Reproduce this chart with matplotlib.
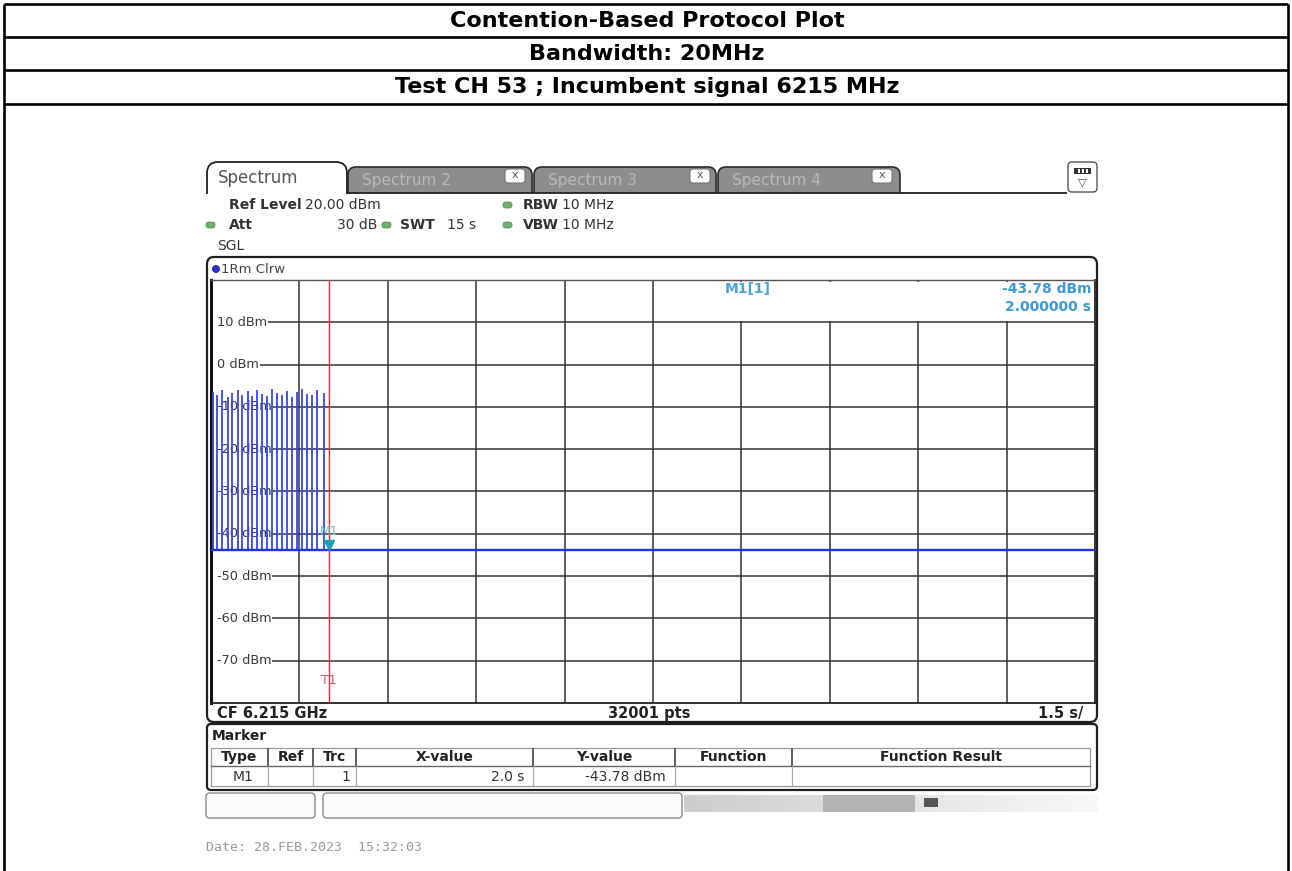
import matplotlib
matplotlib.use("Agg")
import numpy as np
import matplotlib.pyplot as plt
from matplotlib.patches import FancyBboxPatch, Rectangle, Circle, PathPatch
from matplotlib.path import Path
from matplotlib.transforms import offset_copy, blended_transform_factory

W, H, DPI = 1292, 871, 100

# ---------------- data ----------------
header_rows = ["Contention-Based Protocol Plot", "Bandwidth: 20MHz",
               "Test CH 53 ; Incumbent signal 6215 MHz"]
time_span_s = 15.0
time_per_div_s = 1.5
ref_level_dbm = 20.0
bottom_level_dbm = -80.0
level_ticks_dbm = [10, 0, -10, -20, -30, -40, -50, -60, -70]
level_tick_labels = ["10 dBm", "0 dBm", "-10 dBm", "-20 dBm", "-30 dBm",
                     "-40 dBm", "-50 dBm", "-60 dBm", "-70 dBm"]
floor_times_s = [0.0, 15.0]
floor_levels_dbm = [-43.78, -43.78]
pulse_times_s = [0.03, 0.11, 0.19, 0.28, 0.36, 0.45, 0.53, 0.62, 0.70, 0.78,
                 0.87, 0.95, 1.04, 1.12, 1.21, 1.29, 1.37, 1.46, 1.54, 1.63,
                 1.71, 1.80, 1.91]
pulse_peaks_dbm = [-6.4, -7.1, -6.0, -7.6, -6.8, -5.9, -7.2, -6.3, -7.4, -6.1,
                   -6.9, -7.5, -5.8, -6.6, -7.1, -6.2, -7.7, -6.4, -5.7, -6.9,
                   -7.3, -6.0, -6.7]
marker_time_s = 2.0
marker_level_dbm = -43.78
marker_headers = ["Type", "Ref", "Trc", "X-value", "Y-value", "Function", "Function Result"]
marker_row = ["M1", "", "1", "2.0 s", "-43.78 dBm", "", ""]
tab_names = ["Spectrum", "Spectrum 2", "Spectrum 3", "Spectrum 4"]

UI = "DejaVu Sans"

fig = plt.figure(figsize=(W / DPI, H / DPI), dpi=DPI)
fig.patch.set_facecolor("white")
bg = fig.add_axes([0, 0, 1, 1])
bg.set_xlim(0, W); bg.set_ylim(H, 0); bg.axis("off")

ax = fig.add_axes([211 / W, 1 - 703 / H, 884 / W, 423 / H], zorder=2)
ov = fig.add_axes([0, 0, 1, 1], zorder=3)
ov.set_xlim(0, W); ov.set_ylim(H, 0); ov.axis("off")


def t(axh, x, y, s, size=10, weight="normal", color="#333333", ha="left",
      va="center", family=UI, **kw):
    axh.text(x, y, s, fontsize=size, fontweight=weight, color=color, ha=ha,
             va=va, family=family, **kw)


# ---------------- outer document table ----------------
lw_doc = 1.9
for yy in [4, 37, 70, 104]:
    bg.plot([4, 1288], [yy, yy], color="black", lw=lw_doc, solid_capstyle="butt")
for xx in [4, 1288]:
    bg.plot([xx, xx], [4, H], color="black", lw=lw_doc, solid_capstyle="butt")
for yc, s in zip([21, 54, 87], header_rows):
    t(bg, 647, yc, s, size=16, weight="bold", color="black", ha="center",
      family="DejaVu Sans")


# ---------------- tabs ----------------
def rtab(x0, x1, ytop, ybot, r, fc, ec, lw, z=2):
    verts = [(x0, ybot), (x0, ytop + r), (x0, ytop), (x0 + r, ytop),
             (x1 - r, ytop), (x1, ytop), (x1, ytop + r), (x1, ybot)]
    codes = [Path.MOVETO, Path.LINETO, Path.CURVE3, Path.CURVE3,
             Path.LINETO, Path.CURVE3, Path.CURVE3, Path.LINETO]
    bg.add_patch(PathPatch(Path(verts, codes), fc=fc, ec=ec, lw=lw, zorder=z))


bg.plot([347, 1066], [193, 193], color="#222222", lw=1.3, zorder=3)
rtab(207, 347, 162, 194, 11, "white", "#222222", 1.3, z=4)
t(bg, 218, 178, tab_names[0], size=12, color="#555555", zorder=6)
inactive = [(348, 532, 505), (534, 716, 690), (718, 900, 872)]
for (x0, x1, xb), name in zip(inactive, tab_names[1:]):
    rtab(x0, x1, 167, 193, 8, "#8d8d8d", "#2a2a2a", 1.2, z=2)
    t(bg, x0 + 14, 180, name, size=11, color="#b9b9b9", zorder=3)
    bg.add_patch(FancyBboxPatch((xb, 169), 20, 14,
                                boxstyle="round,pad=0,rounding_size=3",
                                fc="white", ec="#777777", lw=0.8, zorder=3))
    t(bg, xb + 10, 175.5, "x", size=8, color="#555555", ha="center", zorder=4)
# top-right icon
bg.add_patch(FancyBboxPatch((1068, 162), 29, 30,
                            boxstyle="round,pad=0,rounding_size=4",
                            fc="white", ec="#555555", lw=1.0, zorder=3))
bg.add_patch(Rectangle((1074, 168), 17, 6, fc="#333333", ec="none", zorder=4))
for xs in [1078, 1082, 1086]:
    bg.add_patch(Rectangle((xs, 169), 2, 4, fc="white", ec="none", zorder=5))
t(bg, 1082.5, 182, "\u25bd", size=8, color="#444444", ha="center", zorder=4)

# ---------------- settings text ----------------
def gdot(x, y):
    bg.add_patch(FancyBboxPatch((x, y - 3), 9, 6,
                                boxstyle="round,pad=0,rounding_size=2.5",
                                fc="#6fae6f", ec="#4f8f4f", lw=0.5, zorder=3))


t(bg, 229, 205, "Ref Level", weight="bold")
t(bg, 305, 205, "20.00 dBm")
gdot(503, 205)
t(bg, 523, 205, "RBW", weight="bold")
t(bg, 562, 205, "10 MHz")
gdot(206, 225)
t(bg, 229, 225, "Att", weight="bold")
t(bg, 337, 225, "30 dB")
gdot(382, 225)
t(bg, 400, 225, "SWT", weight="bold")
t(bg, 447, 225, "15 s")
gdot(503, 225)
t(bg, 523, 225, "VBW", weight="bold")
t(bg, 562, 225, "10 MHz")
t(bg, 217, 246, "SGL")

# ---------------- diagram box ----------------
bg.add_patch(FancyBboxPatch((207, 257), 890, 465,
                            boxstyle="round,pad=0,rounding_size=7",
                            fc="white", ec="#1e1e1e", lw=1.6, zorder=1))
bg.add_patch(Circle((216, 269), 4, fc="#2e2ec8", ec="none", zorder=3))
t(bg, 221, 269, "1Rm Clrw", size=9.5, color="#444444")
t(bg, 217, 713, "CF 6.215 GHz", size=10.5, weight="bold", color="#222222")
t(bg, 649, 713, "32001 pts", size=10.5, weight="bold", color="#222222", ha="center")
t(bg, 1083, 713, "1.5 s/", size=10.5, weight="bold", color="#222222", ha="right")

# ---------------- data axes ----------------
ax.set_xlim(0, time_span_s)
ax.set_ylim(bottom_level_dbm, ref_level_dbm)
ax.set_xticks([]); ax.set_yticks([])
ax.set_facecolor("white")
xs_grid = np.arange(time_per_div_s, time_span_s - 1e-6, time_per_div_s)
ax.vlines(xs_grid, bottom_level_dbm, ref_level_dbm, colors="#333333", lw=1.1, zorder=1)
ax.hlines(level_ticks_dbm, 0, time_span_s, colors="#333333", lw=1.1, zorder=1)
# blank strip left of the level labels
ax.add_patch(Rectangle((0, 0), 0.0075, 1, transform=ax.transAxes, fc="white",
                       ec="none", zorder=1.5))
for side, lw, c in [("left", 2.2, "#111111"), ("top", 1.0, "#555555"),
                    ("right", 1.3, "#222222"), ("bottom", 1.3, "#222222")]:
    ax.spines[side].set_linewidth(lw)
    ax.spines[side].set_color(c)
ytr = ax.get_yaxis_transform()
for v, lab in zip(level_ticks_dbm, level_tick_labels):
    ax.text(0.0068, v, lab, transform=ytr, ha="left", va="center", fontsize=9.3,
            color="#3a3a3a", family=UI, zorder=2,
            bbox=dict(fc="white", ec="none", pad=0.6))

ax.vlines(pulse_times_s, floor_levels_dbm[0], pulse_peaks_dbm, colors="#3547f0",
          lw=1.3, zorder=3)
ax.plot(floor_times_s, floor_levels_dbm, color="#1f34e6", lw=1.7, zorder=3.5)
ax.axvline(marker_time_s, color="#ff2b2b", lw=1.0, zorder=3.2)
tri_tr = offset_copy(ax.transData, fig=fig, x=0, y=5, units="dots")
ax.plot([marker_time_s], [marker_level_dbm], marker="v", ms=7, color="#1c9fb0",
        linestyle="none", transform=tri_tr, zorder=5)
ax.text(marker_time_s, marker_level_dbm, "M1",
        transform=offset_copy(ax.transData, fig=fig, x=0, y=18, units="dots"),
        ha="center", va="center", fontsize=9, color="#6cc0c8", family=UI, zorder=5)
ax.text(marker_time_s, 0.054, "T1",
        transform=blended_transform_factory(ax.transData, ax.transAxes),
        ha="center", va="center", fontsize=9, color="#e0506a", family=UI, zorder=5)

# marker readout (overlay)
ov.add_patch(Rectangle((700, 281.5), 393.5, 39, fc="white", ec="none", zorder=1))
t(ov, 725, 289, "M1[1]", weight="bold", color="#4aa3df", zorder=2)
t(ov, 1091, 289, "-43.78 dBm", weight="bold", color="#3a9ad9", ha="right", zorder=2)
t(ov, 1091, 307, "2.000000 s", weight="bold", color="#3a9ad9", ha="right", zorder=2)

# ---------------- marker table ----------------
bg.add_patch(FancyBboxPatch((207, 724), 890, 66,
                            boxstyle="round,pad=0,rounding_size=4",
                            fc="white", ec="#1e1e1e", lw=1.6, zorder=1))
t(bg, 212, 736, "Marker", weight="bold", color="#222222")
cols = [211, 268, 313, 356, 533, 675, 792, 1090]
bg.add_patch(Rectangle((cols[0], 748), cols[-1] - cols[0], 38, fc="white",
                       ec="#9a9a9a", lw=0.9, zorder=2))
bg.plot([cols[0], cols[-1]], [766, 766], color="#666666", lw=1.0, zorder=3)
for xc in cols[1:-1]:
    bg.plot([xc, xc], [749, 766], color="#333333", lw=1.1, zorder=3)
    bg.plot([xc, xc], [766, 785], color="#aaaaaa", lw=0.9, zorder=3)
for i, h in enumerate(marker_headers):
    t(bg, (cols[i] + cols[i + 1]) / 2, 757, h, weight="bold", color="#222222",
      ha="center", zorder=4)
row_right = [254, None, 350, 524, 666, None, None]
for s, xr in zip(marker_row, row_right):
    if s and xr:
        t(bg, xr, 777, s, color="#333333", ha="right", zorder=4)

# ---------------- status bar ----------------
bg.add_patch(FancyBboxPatch((206, 793), 109, 25,
                            boxstyle="round,pad=0,rounding_size=4",
                            fc="#fbfbfb", ec="#8a8a8a", lw=1.0, zorder=2))
bg.add_patch(FancyBboxPatch((323, 793), 359, 25,
                            boxstyle="round,pad=0,rounding_size=4",
                            fc="#fbfbfb", ec="#8a8a8a", lw=1.0, zorder=2))
grad = np.linspace(0.80, 0.97, 64).reshape(1, -1)
bg.imshow(grad, extent=[684, 1098, 812, 795], cmap="gray", vmin=0, vmax=1,
          aspect="auto", zorder=1)
bg.add_patch(Rectangle((823, 795), 92, 17, fc="#b3b3b3", ec="none", zorder=2))
bg.add_patch(Rectangle((924, 798), 14, 9, fc="#555555", ec="none", zorder=2))
bg.set_xlim(0, W); bg.set_ylim(H, 0)
t(bg, 206, 847, "Date: 28.FEB.2023  15:32:03", size=9.5, color="#9a9a9a",
  family="DejaVu Sans Mono")

fig.savefig("out.png", dpi=DPI)
